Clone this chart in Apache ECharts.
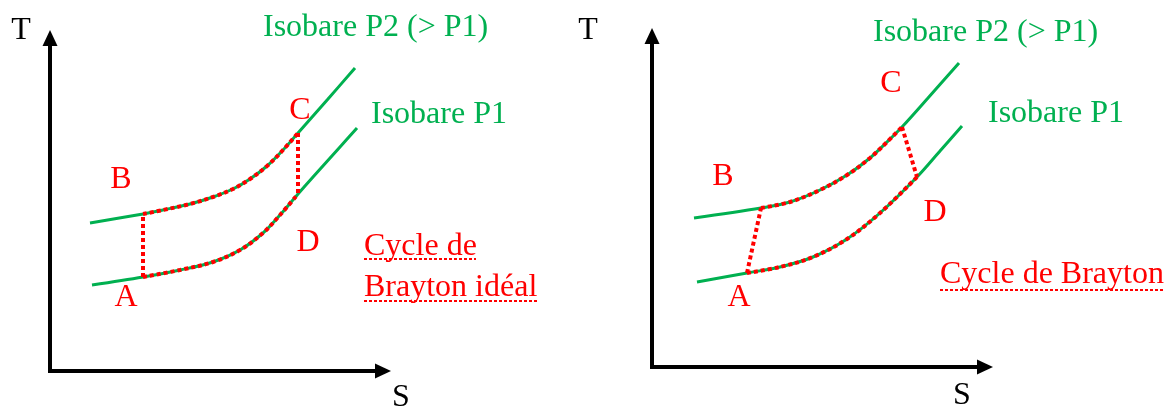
<!DOCTYPE html>
<html>
<head>
<meta charset="utf-8">
<script src="https://cdn.jsdelivr.net/npm/echarts@6/dist/echarts.min.js"></script>
<style>
    html, body { margin: 0; padding: 0; background: #ffffff; }
    #main { width: 1168px; height: 408px; }
</style>
</head>
<body>
<div id="main"></div>
<script>
var leftP2 = [[40, 148], [93, 157], [113, 161], [140, 167], [163, 174], [183, 182], [200, 192], [217, 205], [233, 221], [248, 238], [263, 255], [278, 272], [305, 303]];
var leftP1 = [[42, 86], [93, 94], [130, 101], [163, 109], [190, 121], [213, 138], [230, 156], [248, 177], [263, 194], [290, 224], [307, 243]];
var rightP2 = [[42, 149], [109, 159], [138, 165], [168, 177], [195, 192], [218, 209], [234, 224], [250, 240], [276, 269], [307, 304]];
var rightP1 = [[45, 85], [95, 94], [128, 100], [161, 110], [195, 128], [228, 154], [265, 190], [288, 216], [310, 241]];

// cycle corners A, B, C, D
var leftCycle = { A: [93, 94], B: [93, 157], C: [248, 238], D: [248, 177] };
var rightCycle = { A: [95, 94], B: [109, 159], C: [250, 240], D: [265, 190] };

var GREEN = '#00b050';
var RED = '#ff0000';
var FONT = '32px "Liberation Serif", "Times New Roman", serif';

function between(pts, a, b) {
    return pts.filter(function (p) { return p[0] >= a && p[0] <= b; });
}

function makeAxis(idx, max) {
    return {
        type: 'value',
        gridIndex: idx,
        min: 0,
        max: max,
        axisLine: {
            show: true,
            symbol: ['none', 'triangle'],
            symbolSize: [15, 16],
            lineStyle: { color: '#000000', width: 4, cap: 'square' }
        },
        axisTick: { show: false },
        axisLabel: { show: false },
        splitLine: { show: false }
    };
}

function greenLine(idx, data) {
    return {
        type: 'line', xAxisIndex: idx, yAxisIndex: idx,
        data: data, smooth: 0.35, showSymbol: false, z: 2,
        lineStyle: { color: GREEN, width: 3 }
    };
}

function redLine(idx, data, smooth) {
    return {
        type: 'line', xAxisIndex: idx, yAxisIndex: idx,
        data: data, smooth: smooth, showSymbol: false, z: 3,
        lineStyle: { color: RED, width: 4, type: [4, 3], cap: 'butt' }
    };
}

function cycleSeries(idx, p1, p2, c) {
    return [
        redLine(idx, between(p1, c.A[0], c.D[0]), 0.35),
        redLine(idx, between(p2, c.B[0], c.C[0]), 0.35),
        redLine(idx, [c.A, c.B], false),
        redLine(idx, [c.C, c.D], false)
    ];
}

function txt(text, x, y, color, align) {
    return {
        type: 'text', x: x, y: y, z: 10,
        style: {
            text: text, fill: color, font: FONT,
            textAlign: align || 'center', align: align || 'center',
            textVerticalAlign: 'middle', verticalAlign: 'middle'
        }
    };
}

function underline(x1, x2, y) {
    return {
        type: 'line', z: 10,
        shape: { x1: x1, y1: y, x2: x2, y2: y },
        style: { stroke: RED, lineWidth: 2, lineDash: [3, 2] }
    };
}

var chart = echarts.init(document.getElementById('main'));
var option = {
    animation: false,
    backgroundColor: '#ffffff',
    grid: [
        { left: 50, top: 38, width: 333, height: 333 },
        { left: 652, top: 36, width: 333, height: 331 }
    ],
    xAxis: [makeAxis(0, 333), makeAxis(1, 333)],
    yAxis: [makeAxis(0, 333), makeAxis(1, 331)],
    series: [
        greenLine(0, leftP2),
        greenLine(0, leftP1),
        greenLine(1, rightP2),
        greenLine(1, rightP1)
    ].concat(cycleSeries(0, leftP1, leftP2, leftCycle))
     .concat(cycleSeries(1, rightP1, rightP2, rightCycle)),
    graphic: [
        txt('T', 21, 31, '#000000'),
        txt('S', 401, 398, '#000000'),
        txt('Isobare P2 (> P1)', 263, 28, GREEN, 'left'),
        txt('Isobare P1', 371, 115, GREEN, 'left'),
        txt('C', 300, 111, RED),
        txt('B', 121, 180, RED),
        txt('D', 308, 243, RED),
        txt('A', 126, 298, RED),
        txt('Cycle de', 364, 247, RED, 'left'),
        txt('Brayton idéal', 364, 288, RED, 'left'),
        underline(364, 476, 259),
        underline(364, 538, 301),

        txt('T', 588, 31, '#000000'),
        txt('S', 962, 396, '#000000'),
        txt('Isobare P2 (> P1)', 873, 33, GREEN, 'left'),
        txt('Isobare P1', 988, 114, GREEN, 'left'),
        txt('C', 891, 84, RED),
        txt('B', 723, 177, RED),
        txt('D', 935, 213, RED),
        txt('A', 739, 298, RED),
        txt('Cycle de Brayton', 940, 275, RED, 'left'),
        underline(940, 1163, 290)
    ]
};
chart.setOption(option);
</script>
</body>
</html>
